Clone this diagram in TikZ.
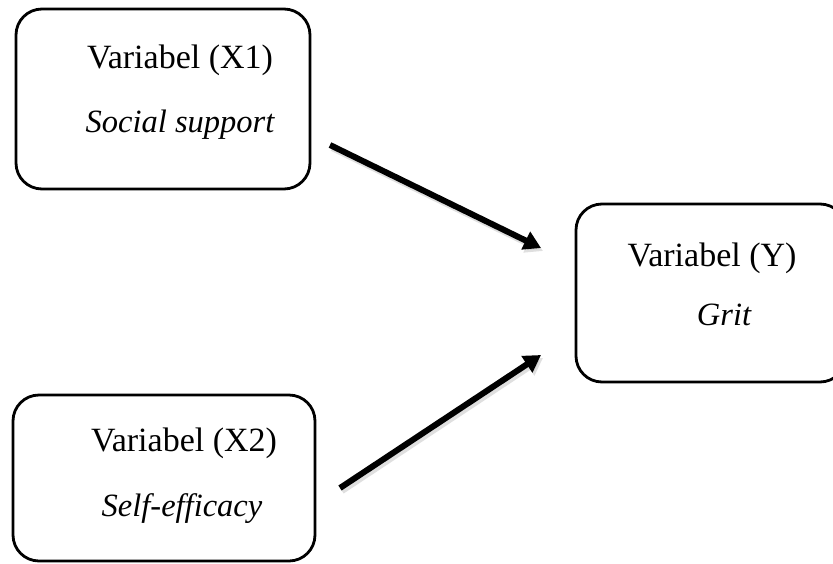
\documentclass[tikz,border=0pt]{standalone}
\usepackage{fontspec}
\setmainfont{Liberation Serif}
\usetikzlibrary{arrows.meta}
\begin{document}
\begin{tikzpicture}[x=1pt,y=-1pt,
  varbox/.style={draw=black,line width=2.8pt,rounded corners=26pt,inner sep=0pt},
  vtext/.style={anchor=base,inner sep=0pt,font=\fontsize{34}{40}\selectfont},
  itext/.style={vtext,font=\fontsize{32.5}{40}\selectfont\itshape},
  arr/.style={line width=6pt,-{Triangle[length=17pt,width=19pt]}},
  arrshadow/.style={line width=6pt,draw=black!25,opacity=0.5,-{Triangle[length=17pt,width=19pt]}}]
\useasboundingbox (0,0) rectangle (833,563);
\clip (0,0) rectangle (833,563);
% boxes
\node[varbox,minimum width=294pt,minimum height=180pt] (x1) at (163,99) {};
\node[varbox,minimum width=302pt,minimum height=166pt] (x2) at (164,478) {};
\node[varbox,minimum width=270pt,minimum height=178pt] (y) at (711,293) {};
% texts
\node[vtext] (x1a) at (180,68) {Variabel (X1)};
\node[itext] (x1b) at (180,132) {Social support};
\node[vtext] (x2a) at (184,451) {Variabel (X2)};
\node[itext] (x2b) at (182,516) {Self-efficacy};
\node[vtext] (ya) at (712,266) {Variabel (Y)};
\node[itext] (yb) at (724,325) {Grit};
% arrow ends
\coordinate (a1s) at (330,145);
\coordinate (a1e) at (541,248);
\coordinate (a2s) at (340,488);
\coordinate (a2e) at (541,355);
\draw[arrshadow] ([shift={(2,3)}]a1s) -- ([shift={(2,3)}]a1e);
\draw[arrshadow] ([shift={(2,3)}]a2s) -- ([shift={(2,3)}]a2e);
\draw[arr] (a1s) -- (a1e);
\draw[arr] (a2s) -- (a2e);
\end{tikzpicture}
\end{document}
